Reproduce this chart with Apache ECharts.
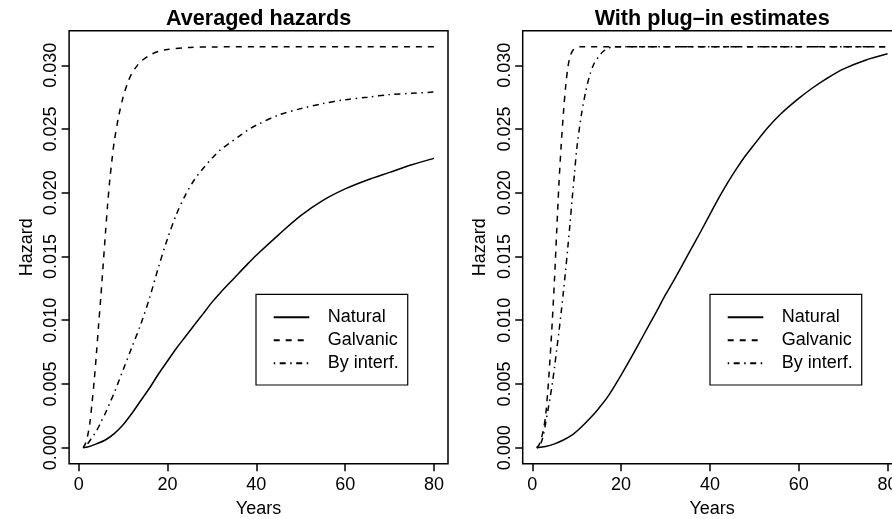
<!DOCTYPE html>
<html><head><meta charset="utf-8">
<script src="https://cdn.jsdelivr.net/npm/echarts@6/dist/echarts.min.js"></script>
<style>html,body{margin:0;padding:0;background:#fff}#c{width:892px;height:519px}</style>
</head><body><div id="c"></div>
<script>
// ---- data ----
const seriesNames = ['Natural', 'Galvanic', 'By interf.'];
const panelTitles = ['Averaged hazards', 'With plug\u2013in estimates'];
const xAxisTitle = 'Years';
const yAxisTitle = 'Hazard';
const xTicks = [0, 20, 40, 60, 80];
const yTicks = [0, 0.005, 0.010, 0.015, 0.020, 0.025, 0.030];

// Panel 1: averaged hazards
const avgNaturalYears = [1,2,4,6,8,10,12,14,16,18,20,22,24,26,28,30,32,35,38,40,45,50,55,60,65,70,75,80];
const avgNaturalHazard = [0,0.00005,0.0003,0.0006,0.0011,0.0018,0.0027,0.0037,0.0047,0.0058,0.0068,0.0078,0.0087,0.0096,0.0105,0.0114,0.0122,0.0133,0.0144,0.0151,0.0167,0.0182,0.0194,0.0203,0.0210,0.0216,0.0222,0.0227];
const avgGalvanicYears = [1,1.5,2,2.5,3,3.5,4,4.5,5,5.5,6,6.5,7,7.5,8,9,10,11,12,13,14,16,18,20,25,30,40,60,80];
const avgGalvanicHazard = [0,0.0003,0.0009,0.0019,0.0035,0.0053,0.0074,0.0097,0.0119,0.0143,0.0167,0.0190,0.0210,0.0226,0.0240,0.0260,0.0275,0.0286,0.0294,0.0299,0.0303,0.0308,0.0311,0.03125,0.0314,0.03144,0.03146,0.03146,0.03146];
const avgInterfYears = [1,2,3,4,5,6,7,8,9,10,12,14,16,18,20,22,24,26,28,30,32,34,36,38,40,45,50,55,60,65,70,75,80];
const avgInterfHazard = [0,0.0003,0.0008,0.0013,0.0020,0.0027,0.0035,0.0043,0.0052,0.0061,0.0079,0.0097,0.0118,0.0142,0.0164,0.0183,0.0198,0.0210,0.0219,0.0227,0.0234,0.0239,0.0244,0.0249,0.0253,0.0261,0.0266,0.0270,0.0273,0.0275,0.0277,0.0278,0.0279];

// Panel 2: plug-in estimates
const plugNaturalYears = [1,3,5,7,9,11,13,15,17,20,22,25,28,30,32,35,38,40,42,44,46,48,50,53,56,60,63,66,70,75,80];
const plugNaturalHazard = [0,0.0001,0.0003,0.0006,0.0010,0.0016,0.0023,0.0031,0.0040,0.0057,0.0069,0.0088,0.0107,0.0120,0.0132,0.0151,0.0170,0.0183,0.0196,0.0208,0.0219,0.0229,0.0238,0.0251,0.0262,0.0274,0.0282,0.0289,0.0297,0.0304,0.0309];
const plugGalvanicYears = [1,1.5,2,2.5,3,3.5,4,4.5,5,5.5,6,6.5,7,7.5,8,8.5,9,9.5,10,11,12,20,40,60,80];
const plugGalvanicHazard = [0,0.0002,0.0007,0.0014,0.0025,0.0045,0.0070,0.0099,0.0132,0.0170,0.0207,0.0237,0.0262,0.0283,0.0298,0.0307,0.0311,0.0313,0.0314,0.03146,0.03146,0.03146,0.03146,0.03146,0.03146];
const plugInterfYears = [1,1.5,2,2.5,3,3.5,4,4.5,5,5.5,6,6.5,7,7.5,8,8.5,9,9.5,10,11,12,13,14,15,16,17,18,20,40,60,80];
const plugInterfHazard = [0,0.0001,0.0004,0.0010,0.0019,0.0029,0.0039,0.0050,0.0063,0.0077,0.0091,0.0106,0.0122,0.0139,0.0157,0.0176,0.0196,0.0215,0.0234,0.0260,0.0279,0.0293,0.0302,0.0307,0.0311,0.0313,0.03145,0.03146,0.03146,0.03146,0.03146];

// ---- chart ----
const FONT = 'Liberation Sans';
const pairs = (xs, ys) => xs.map((x, i) => [x, ys[i]]);
const panels = [
  [pairs(avgNaturalYears, avgNaturalHazard), pairs(avgGalvanicYears, avgGalvanicHazard), pairs(avgInterfYears, avgInterfHazard)],
  [pairs(plugNaturalYears, plugNaturalHazard), pairs(plugGalvanicYears, plugGalvanicHazard), pairs(plugInterfYears, plugInterfHazard)]
];
const dashes = ['solid', [6, 6], [1.5, 4.5, 6, 4.5]];
const gridLeft = [69.1, 522.7];
const gridWidth = 378.9;
const legendLeft = [256, 710];
const xMin = -2.16, xMax = 83.16;
const yMin = -0.001258, yMax = 0.032708;

const txt = {fontFamily: FONT, fontSize: 18, color: '#000'};

const option = {
  animation: false,
  backgroundColor: '#fff',
  title: [0, 1].map(i => ({
    text: panelTitles[i],
    left: gridLeft[i] + gridWidth / 2,
    top: 8.4,
    padding: 0,
    textAlign: 'center',
    textStyle: {fontFamily: FONT, fontSize: 21.6, fontWeight: 'bold', color: '#000'}
  })),
  grid: [0, 1].map(i => ({
    left: gridLeft[i], top: 30.8, width: gridWidth, height: 432.9,
    show: true, borderColor: '#000', borderWidth: 1.5, backgroundColor: 'transparent',
    containLabel: false, outerBoundsMode: 'none'
  })),
  xAxis: [0, 1].map(i => ({
    gridIndex: i, type: 'value', min: xMin, max: xMax,
    axisLine: {show: false, onZero: false},
    splitLine: {show: false},
    axisTick: {show: true, length: 7.5, customValues: xTicks, lineStyle: {color: '#000', width: 1.5}},
    axisLabel: Object.assign({customValues: xTicks, margin: 12.3}, txt),
    name: xAxisTitle, nameLocation: 'middle', nameGap: 36.6,
    nameTextStyle: txt
  })),
  yAxis: [0, 1].map(i => ({
    gridIndex: i, type: 'value', min: yMin, max: yMax,
    axisLine: {show: false, onZero: false},
    splitLine: {show: false},
    axisTick: {show: true, length: 7.5, customValues: yTicks, lineStyle: {color: '#000', width: 1.5}},
    axisLabel: Object.assign({customValues: yTicks, margin: 9, rotate: 90, formatter: v => v.toFixed(3)}, txt),
    name: yAxisTitle, nameLocation: 'middle', nameGap: 33.4, nameRotate: 90,
    nameTextStyle: txt
  })),
  legend: [0, 1].map(i => ({
    data: seriesNames, orient: 'vertical', left: legendLeft[i], top: 294.3,
    padding: [13, 9, 11.7, 16.7], itemGap: 3, itemWidth: 35.6, itemHeight: 20,
    borderColor: '#000', borderWidth: 1.2, borderRadius: 0, backgroundColor: '#fff',
    selectedMode: false,
    itemStyle: {opacity: 0, color: 'rgba(0,0,0,0)', borderWidth: 0},
    textStyle: Object.assign({lineHeight: 20, padding: [0, 0, 0, 13.4]}, txt)
  })),
  series: []
};

panels.forEach((pd, i) => {
  pd.forEach((d, k) => {
    option.series.push({
      type: 'line', name: seriesNames[k], xAxisIndex: i, yAxisIndex: i,
      data: d, symbol: 'none', showSymbol: false, smooth: 0.3,
      lineStyle: {color: '#000', width: 1.5, type: dashes[k]},
      itemStyle: {color: '#000'}
    });
  });
});

const chart = echarts.init(document.getElementById('c'), null, {renderer: 'canvas'});
chart.setOption(option);
</script>
</body></html>
